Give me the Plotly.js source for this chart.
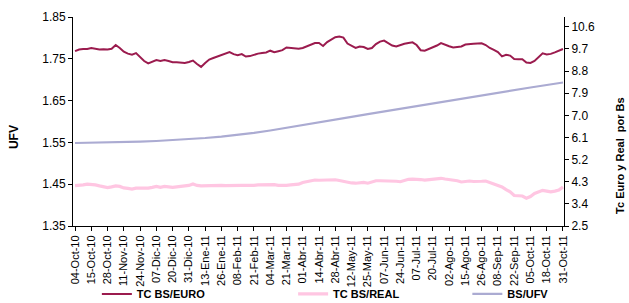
<!DOCTYPE html>
<html>
<head>
<meta charset="utf-8">
<script src="https://cdn.plot.ly/plotly-3.0.1.min.js"></script>
<style>
html,body{margin:0;padding:0;background:#fff;}
#chart{width:629px;height:303px;}
</style>
</head>
<body>
<div id="chart"></div>
<script>
// Tick labels (every 4th sample)
const dateLabels = ["04-Oct-10","15-Oct-10","28-Oct-10","11-Nov-10","24-Nov-10","07-Dic-10","20-Dic-10","31-Dic-10",
  "13-Ene-11","26-Ene-11","08-Feb-11","21-Feb-11","04-Mar-11","21-Mar-11","01-Abr-11","14-Abr-11","28-Abr-11",
  "12-May-11","25-May-11","07-Jun-11","24-Jun-11","07-Jul-11","20-Jul-11","02-Ago-11","15-Ago-11","26-Ago-11",
  "08-Sep-11","22-Sep-11","05-Oct-11","18-Oct-11","31-Oct-11"];

// TC BS/EURO (right axis)
const euro = [9.61,9.68,9.70,9.70,9.74,9.70,9.68,9.69,9.68,9.71,9.86,9.74,9.59,9.51,9.47,9.53,9.37,9.21,9.11,9.19,
  9.25,9.21,9.25,9.21,9.16,9.16,9.13,9.13,9.17,9.23,9.09,8.97,9.13,9.27,9.33,9.39,9.45,9.49,9.57,9.49,
  9.45,9.49,9.39,9.41,9.47,9.51,9.54,9.56,9.63,9.57,9.61,9.65,9.76,9.74,9.71,9.71,9.74,9.80,9.88,9.94,
  9.94,9.82,9.98,10.08,10.18,10.21,10.16,9.92,9.82,9.74,9.80,9.78,9.70,9.74,9.90,10.00,10.04,9.94,9.84,9.80,
  9.87,9.91,9.94,9.97,9.86,9.65,9.63,9.70,9.76,9.84,9.94,9.86,9.81,9.76,9.78,9.80,9.88,9.91,9.91,9.92,
  9.93,9.86,9.74,9.66,9.57,9.40,9.46,9.43,9.29,9.28,9.28,9.15,9.13,9.21,9.35,9.52,9.48,9.50,9.56,9.63,9.70];

// TC BS/REAL (right axis)
const real = [4.14,4.14,4.17,4.20,4.20,4.17,4.13,4.09,4.06,4.09,4.13,4.11,4.05,4.03,4.00,4.04,4.03,4.02,4.04,4.07,
  4.11,4.07,4.11,4.09,4.07,4.09,4.11,4.11,4.15,4.21,4.15,4.13,4.14,4.14,4.15,4.15,4.15,4.14,4.15,4.15,
  4.17,4.15,4.15,4.14,4.15,4.17,4.17,4.19,4.20,4.18,4.15,4.14,4.15,4.17,4.19,4.20,4.27,4.31,4.35,4.37,
  4.36,4.37,4.38,4.39,4.38,4.35,4.31,4.28,4.25,4.24,4.26,4.27,4.24,4.29,4.34,4.34,4.34,4.34,4.34,4.32,
  4.30,4.35,4.40,4.41,4.41,4.39,4.37,4.39,4.40,4.42,4.44,4.41,4.39,4.36,4.34,4.29,4.31,4.33,4.31,4.30,
  4.32,4.33,4.27,4.20,4.15,4.09,3.98,3.89,3.74,3.74,3.72,3.63,3.70,3.82,3.90,3.95,3.92,3.89,3.92,3.96,4.09];

// BS/UFV (left axis), read at each tick date
const ufv = [1.5486,1.5490,1.5498,1.5507,1.5519,1.5534,1.5553,1.5577,1.5605,1.5639,1.5679,1.5727,1.5785,1.5847,
  1.5911,1.5977,1.6043,1.6109,1.6175,1.6240,1.6306,1.6372,1.6438,1.6502,1.6567,1.6629,1.6691,1.6754,1.6813,1.6873,1.6933];

const leftTicks = [1.35,1.45,1.55,1.65,1.75,1.85];
const rightTicks = [2.5,3.4,4.3,5.2,6.1,7.0,7.9,8.8,9.7,10.6];

const step = (euro.length - 1) / (dateLabels.length - 1);
const xIdx = euro.map((_, i) => i);
const ufvIdx = ufv.map((_, i) => i * step);
const tickIdx = dateLabels.map((_, i) => i * step);

const FONT = "Arial, 'Liberation Sans', sans-serif";
const XR = [-0.5, 120.25], YL = [1.35, 1.85], YR = [2.5, 11.0];

const traces = [
  {x: xIdx, y: euro, yaxis: 'y2', type: 'scatter', mode: 'lines', name: 'TC BS/EURO',
   line: {color: '#9b1b4e', width: 2}, legend: 'legend'},
  {x: xIdx, y: real, yaxis: 'y2', type: 'scatter', mode: 'lines', name: 'TC BS/REAL',
   line: {color: '#ffc6e2', width: 3.2}, legend: 'legend2'},
  {x: ufvIdx, y: ufv, yaxis: 'y', type: 'scatter', mode: 'lines', name: 'BS/UFV',
   line: {color: '#ababd2', width: 2.2}, legend: 'legend3'}
];

const legBase = {orientation: 'h', xref: 'container', yref: 'container', yanchor: 'middle', xanchor: 'left', y: 0.03,
  bgcolor: 'rgba(0,0,0,0)', font: {family: FONT, size: 11, color: '#000', weight: 'bold'}};

// inner halves of the crossing tick marks
const innerTick = {ticks: 'inside', ticklen: 3, tickcolor: '#000', showticklabels: false, showline: false,
  showgrid: false, zeroline: false, tickmode: 'array'};

const layout = {
  width: 629, height: 303,
  margin: {l: 73, r: 65, t: 17, b: 77, autoexpand: false},
  paper_bgcolor: '#fff', plot_bgcolor: '#fff',
  showlegend: true,
  xaxis: {
    range: XR, tickmode: 'array', tickvals: tickIdx, ticktext: dateLabels,
    tickangle: -90, ticks: 'outside', ticklen: 4, tickcolor: '#000', showline: true, linecolor: '#000', linewidth: 1,
    showgrid: false, zeroline: false, tickfont: {family: FONT, size: 11, color: '#000'}
  },
  yaxis: {
    range: YL, tickmode: 'array', tickvals: leftTicks, tickformat: '.2f',
    ticks: 'outside', ticklen: 4, tickcolor: '#000', showline: true, linecolor: '#000', linewidth: 1,
    showgrid: false, zeroline: false, tickfont: {family: FONT, size: 12, color: '#000'}
  },
  yaxis2: {
    range: YR, overlaying: 'y', side: 'right', tickmode: 'array', tickvals: rightTicks, tickformat: '.1f',
    ticks: 'outside', ticklen: 4, tickcolor: '#000', showline: true, linecolor: '#000', linewidth: 1,
    showgrid: false, zeroline: false, tickfont: {family: FONT, size: 12, color: '#000'}
  },
  xaxis2: Object.assign({}, innerTick, {range: XR, overlaying: 'x', anchor: 'y', side: 'bottom', tickvals: tickIdx}),
  yaxis3: Object.assign({}, innerTick, {range: YL, overlaying: 'y', anchor: 'x', side: 'left', tickvals: leftTicks}),
  yaxis4: Object.assign({}, innerTick, {range: YR, overlaying: 'y', anchor: 'x', side: 'right', tickvals: rightTicks}),
  legend: Object.assign({}, legBase, {x: 0.154}),
  legend2: Object.assign({}, legBase, {x: 0.466}),
  legend3: Object.assign({}, legBase, {x: 0.743}),
  annotations: [
    {text: 'UFV', xref: 'paper', yref: 'paper', x: -0.120, y: 0.426, textangle: -90, showarrow: false,
     xanchor: 'center', yanchor: 'middle', font: {family: FONT, size: 12, color: '#000', weight: 'bold'}},
    {text: 'Tc Euro y Real  por Bs', xref: 'paper', yref: 'paper', x: 1.114, y: 0.34, textangle: -90, showarrow: false,
     xanchor: 'center', yanchor: 'middle', font: {family: FONT, size: 11, color: '#000', weight: 'bold'}}
  ]
};

Plotly.newPlot('chart', traces, layout, {displayModeBar: false, staticPlot: true});
</script>
</body>
</html>
